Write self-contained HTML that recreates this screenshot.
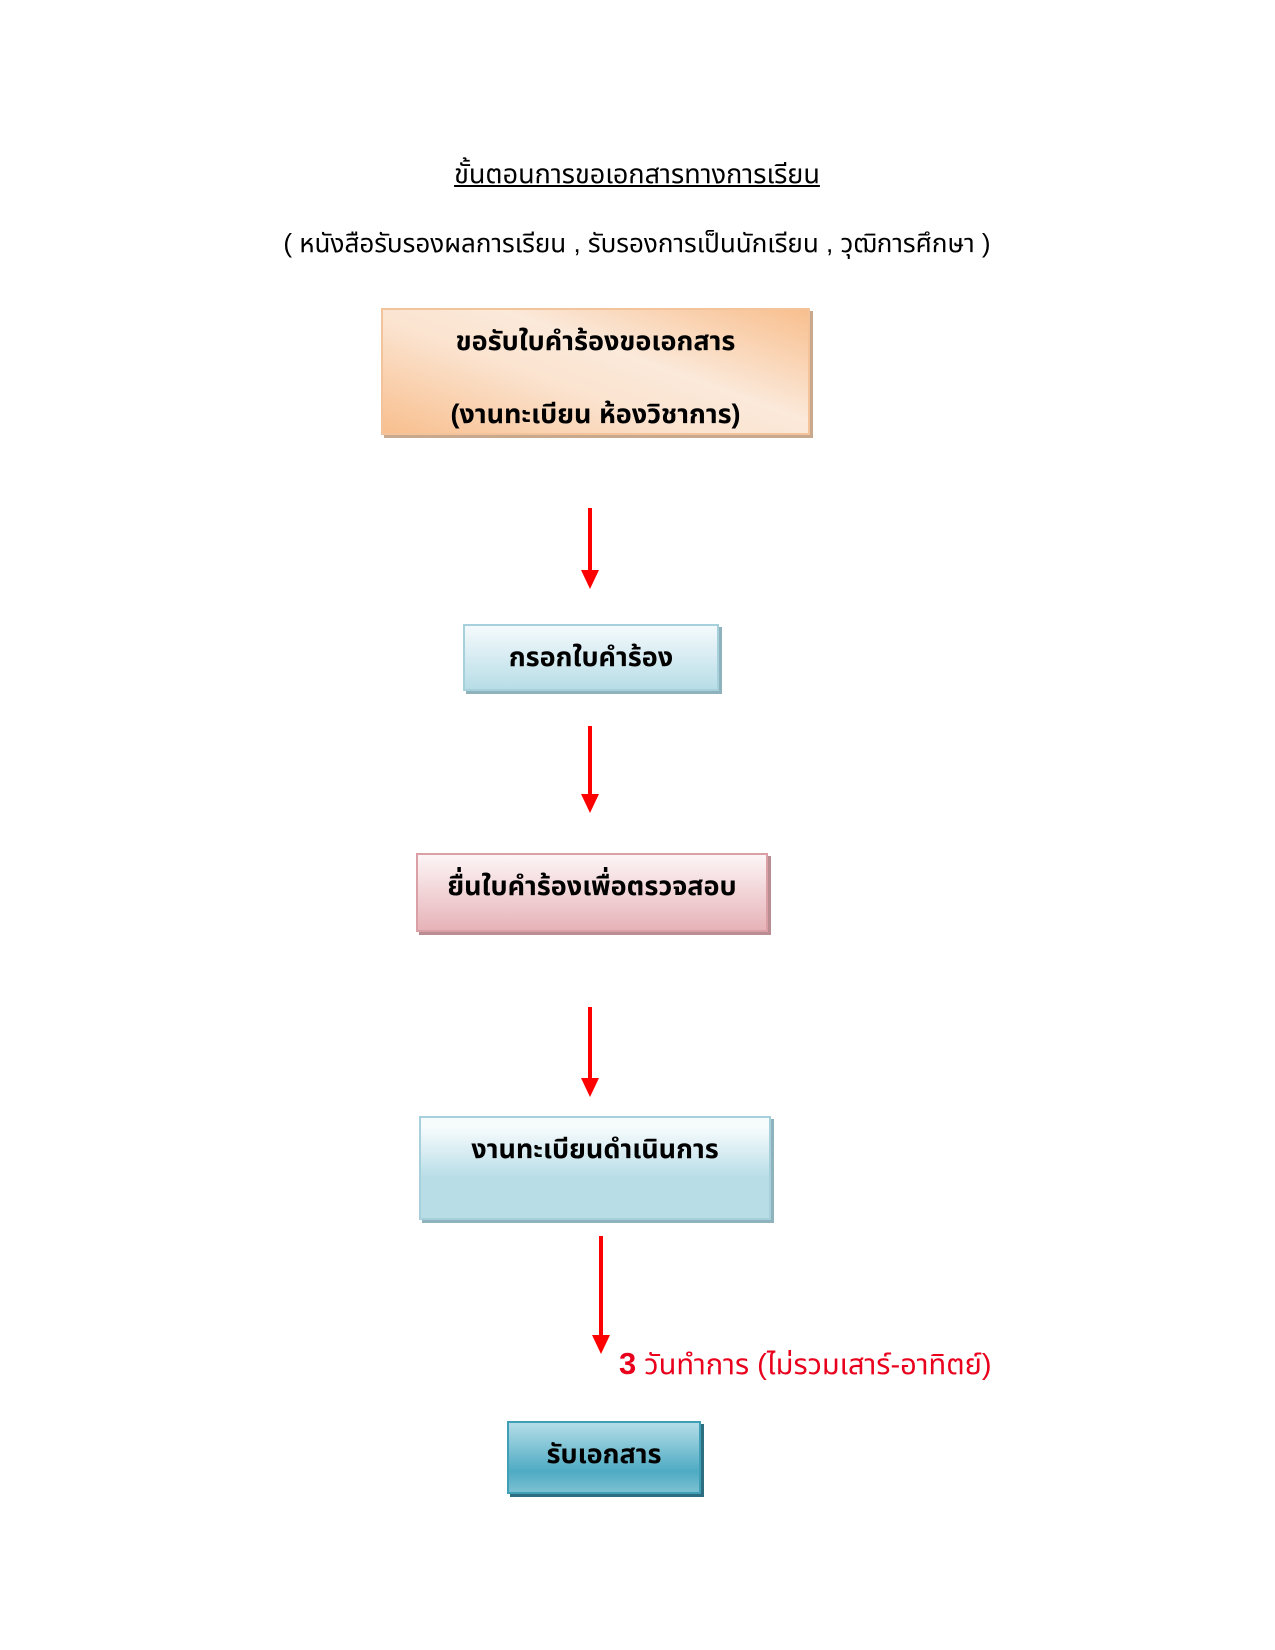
<!DOCTYPE html>
<html><head><meta charset="utf-8"><style>
body{margin:0;width:1275px;height:1650px;background:#fff;position:relative;font-family:"Liberation Sans","Noto Sans Thai","Garuda","Loma",sans-serif;color:#000}
.t{position:absolute;white-space:nowrap;text-align:center;line-height:34px}
.b{position:absolute;box-sizing:border-box;text-align:center;font-size:27px;font-weight:bold;line-height:34px;padding-top:14px;white-space:nowrap}
.a{position:absolute;width:4px;background:#f00}
.h{position:absolute;width:0;height:0;border-left:9px solid transparent;border-right:9px solid transparent;border-top:19px solid #f00}
</style></head><body>
<div class="t" style="left:0;width:1274px;top:157px;font-size:27px;text-decoration:underline">ขั้นตอนการขอเอกสารทางการเรียน</div>
<div class="t" style="left:0;width:1274px;top:226px;font-size:26px">( หนังสือรับรองผลการเรียน , รับรองการเป็นนักเรียน , วุฒิการศึกษา )</div>

<div class="b" style="left:381px;top:308px;width:429px;height:127px;border:2px solid #f3c49c;background:linear-gradient(200deg,#f8bf8e 0%,#fbe9da 40%,#fbe3cf 60%,#f8bf8e 100%);box-shadow:3px 3px 0 #c9a98d">
<div>ขอรับใบคำร้องขอเอกสาร</div><div style="margin-top:39px">(งานทะเบียน ห้องวิชาการ)</div></div>

<div class="a" style="left:588px;top:508px;height:62px"></div><div class="h" style="left:581px;top:570px"></div>

<div class="b" style="left:463px;top:624px;width:256px;height:67px;border:2px solid #a5d0dc;background:linear-gradient(#f4fafc,#b8dde7);box-shadow:3px 3px 0 #8fb3bd">กรอกใบคำร้อง</div>

<div class="a" style="left:588px;top:726px;height:68px"></div><div class="h" style="left:581px;top:794px"></div>

<div class="b" style="left:416px;top:853px;width:352px;height:79px;border:2px solid #dba0a6;background:linear-gradient(#fdf5f6,#e6b3b8);box-shadow:3px 3px 0 #b98d91">ยื่นใบคำร้องเพื่อตรวจสอบ</div>

<div class="a" style="left:588px;top:1007px;height:71px"></div><div class="h" style="left:581px;top:1078px"></div>

<div class="b" style="left:419px;top:1116px;width:352px;height:104px;border:2px solid #a5d0dc;background:linear-gradient(#f6fbfc 10%,#b8dde7 60%,#b8dde7);box-shadow:3px 3px 0 #8fb3bd">งานทะเบียนดำเนินการ</div>

<div class="a" style="left:599px;top:1236px;height:99px"></div><div class="h" style="left:592px;top:1335px"></div>
<div class="t" style="left:619px;top:1347px;font-size:29px;color:#e8001c"><b style="font-size:31px">3</b> วันทำการ (ไม่รวมเสาร์-อาทิตย์)</div>

<div class="b" style="left:507px;top:1421px;width:194px;height:73px;border:2px solid #3f9fb6;background:linear-gradient(#b4dde8,#4eabc3 70%,#7cc0d2);box-shadow:3px 3px 0 #2d6f80">รับเอกสาร</div>
</body></html>
